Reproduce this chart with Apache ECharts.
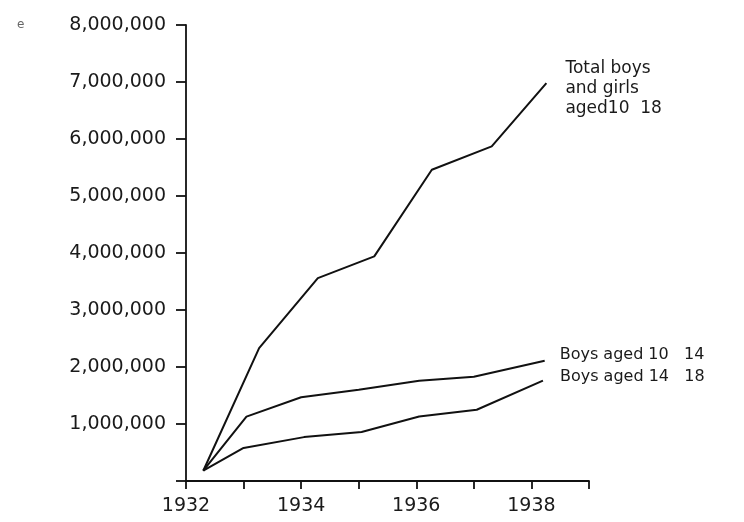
<!DOCTYPE html>
<html>
<head>
<meta charset="utf-8">
<script src="https://cdn.jsdelivr.net/npm/echarts@6/dist/echarts.min.js"></script>
<style>html,body{margin:0;padding:0;background:#fff}#c{width:744px;height:522px}</style>
</head>
<body>
<div id="c"></div>
<script>
const xTickLabels = ['1932', '1934', '1936', '1938'];
const totalYears  = [1932.3, 1933.27, 1934.29, 1935.27, 1936.27, 1937.31, 1938.26];
const totalValues = [180000, 2330000, 3560000, 3940000, 5460000, 5870000, 6980000];
const boys1014Years  = [1932.3, 1933.05, 1934.0, 1935.0, 1936.05, 1937.0, 1938.23];
const boys1014Values = [180000, 1130000, 1470000, 1600000, 1760000, 1830000, 2110000];
const boys1418Years  = [1932.3, 1933.0, 1934.05, 1935.05, 1936.05, 1937.05, 1938.2];
const boys1418Values = [180000, 580000, 770000, 860000, 1130000, 1250000, 1760000];
const seriesNames = ['Total boys\nand girls\naged10  18', 'Boys aged 10   14', 'Boys aged 14   18'];

function pairs(xs, ys) { return xs.map((x, i) => [x, ys[i]]); }
function fmt(v) { return String(v).replace(/\B(?=(\d{3})+(?!\d))/g, ','); }

const font = 'DejaVu Sans';
const ink = '#1a1a1a';
const lineStyle = { color: '#111', width: 2 };
function mkSeries(name, data, offset, size) {
  return {
    type: 'line', name, data, showSymbol: false, symbol: 'none',
    lineStyle, silent: true, animation: false,
    endLabel: {
      show: true, formatter: name, color: ink, fontFamily: font,
      fontSize: size, lineHeight: 20, offset, distance: 0, align: 'left', verticalAlign: 'middle'
    }
  };
}

const chart = echarts.init(document.getElementById('c'), null, { renderer: 'canvas' });
chart.setOption({
  backgroundColor: '#fff',
  animation: false,
  grid: { left: 186, right: 155, top: 25, bottom: 41, containLabel: false },
  xAxis: {
    type: 'value', min: 1932, max: 1939, interval: 1,
    axisLine: { show: true, lineStyle: { color: '#111', width: 1.8 } },
    axisTick: { show: true, length: 8, lineStyle: { color: '#111', width: 1.8 } },
    splitLine: { show: false },
    axisLabel: {
      margin: 16, color: ink, fontFamily: font, fontSize: 19,
      formatter: v => xTickLabels.indexOf(String(Math.round(v))) >= 0 ? String(Math.round(v)) : ''
    }
  },
  yAxis: {
    type: 'value', min: 0, max: 8000000, interval: 1000000,
    axisLine: { show: true, lineStyle: { color: '#111', width: 1.8 } },
    axisTick: { show: true, length: 10, lineStyle: { color: '#111', width: 1.8 } },
    splitLine: { show: false },
    axisLabel: {
      margin: 20, color: ink, fontFamily: font, fontSize: 19,
      formatter: v => v === 0 ? '' : fmt(v)
    }
  },
  graphic: [{ type: 'text', left: 17, top: 19, style: { text: 'e', fill: '#666', font: '12px DejaVu Sans' } }],
  series: [
    mkSeries(seriesNames[0], pairs(totalYears, totalValues), [19, 5], 17),
    mkSeries(seriesNames[1], pairs(boys1014Years, boys1014Values), [15, -6], 16),
    mkSeries(seriesNames[2], pairs(boys1418Years, boys1418Values), [17, -4], 16)
  ]
});
</script>
</body>
</html>
